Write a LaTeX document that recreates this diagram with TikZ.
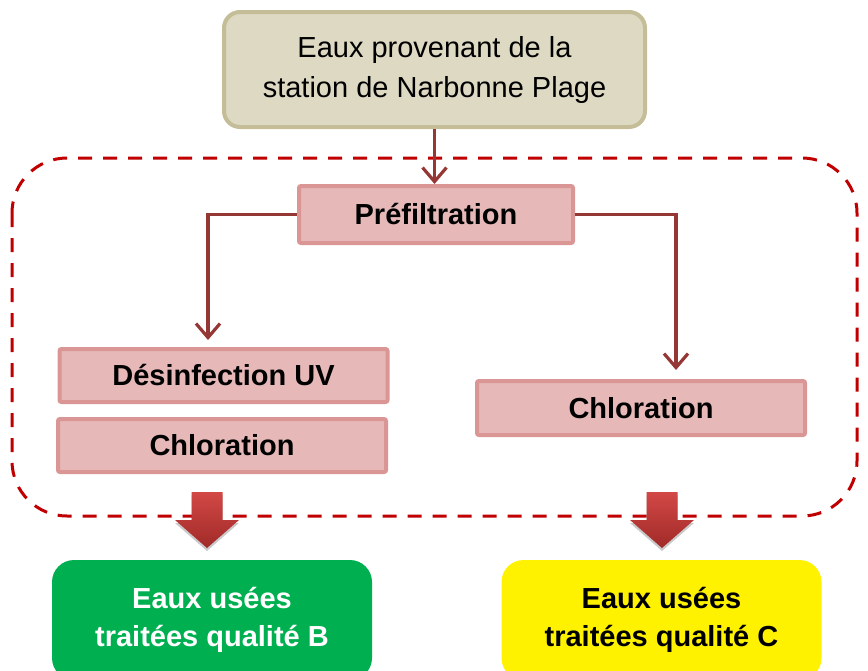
\documentclass[tikz,border=0pt]{standalone}
\usepackage{fontspec}
\setmainfont{Liberation Sans}
\usetikzlibrary{arrows.meta,shadows}
\definecolor{tanfill}{HTML}{DDD9C3}
\definecolor{tanline}{HTML}{C4BD97}
\definecolor{pinkfill}{HTML}{E6B9B8}
\definecolor{pinkline}{HTML}{D99694}
\definecolor{flowred}{HTML}{953735}
\definecolor{dashred}{HTML}{C00000}
\definecolor{greenq}{HTML}{00B050}
\definecolor{arrowtop}{HTML}{D24846}
\definecolor{arrowbot}{HTML}{A02A28}
\begin{document}
\begin{tikzpicture}[x=1pt,y=-1pt,
    every node/.style={font=\fontsize{29}{40}\selectfont, align=center, inner sep=0pt},
    source/.style={draw=tanline, fill=tanfill, line width=4pt, rounded corners=16pt,
        minimum width=421pt, minimum height=115pt},
    process/.style={draw=pinkline, fill=pinkfill, line width=4pt, rounded corners=2pt,
        minimum width=328pt, minimum height=54pt, font=\fontsize{29}{40}\selectfont\bfseries},
    result/.style={rounded corners=22pt, minimum width=320pt, minimum height=120pt,
        font=\fontsize{29}{38}\selectfont\bfseries},
    flow/.style={draw=flowred, line width=3.2pt, -{Straight Barb[length=14pt,width=24pt]}},
    bigarrow/.style={top color=arrowtop, bottom color=arrowbot,
        drop shadow={shadow xshift=0pt, shadow yshift=-3pt, opacity=.35, fill=black!60}}]
    \useasboundingbox (0,0) rectangle (868,670);
    \clip (0,0) rectangle (868,670);
    % Treatment zone
    \draw[dashred, line width=3pt, dash pattern=on 14pt off 11pt, rounded corners=55pt]
        (12,158) rectangle (857,516);
    % Boxes
    \node[source] (top) at (434.5,69.5) {Eaux provenant de la\\station de Narbonne Plage};
    \node[process, minimum width=274pt, minimum height=57pt] (pre) at (436,214.5) {Préfiltration};
    \node[process, minimum height=53pt] (uv) at (223.5,375.5) {Désinfection UV};
    \node[process, minimum height=53pt] (chlB) at (222,445.5) {Chloration};
    \node[process] (chlC) at (641,408) {Chloration};
    \node[result, fill=greenq, text=white] (qualB) at (212,620) {Eaux usées\\traitées qualité B};
    \node[result, fill=yellow] (qualC) at (661.5,620) {Eaux usées\\traitées qualité C};
    % Connectors
    \coordinate (uvin) at (208,340);
    \coordinate (chlin) at (676,370);
    \draw[flow] (top.south) -- (top.south |- pre.north);
    \draw[flow] (pre.west) -| (uvin);
    \draw[flow] (pre.east) -| (chlin);
    % Output arrows
    \foreach \cx/\nm in {207/B, 662/C} {
        \coordinate (out\nm) at (\cx,492);
        \path[bigarrow] (\cx-15.5,492) -- (\cx+15.5,492) -- (\cx+15.5,520) -- (\cx+32,520)
            -- (\cx,548) -- (\cx-32,520) -- (\cx-15.5,520) -- cycle;
    }
\end{tikzpicture}
\end{document}
